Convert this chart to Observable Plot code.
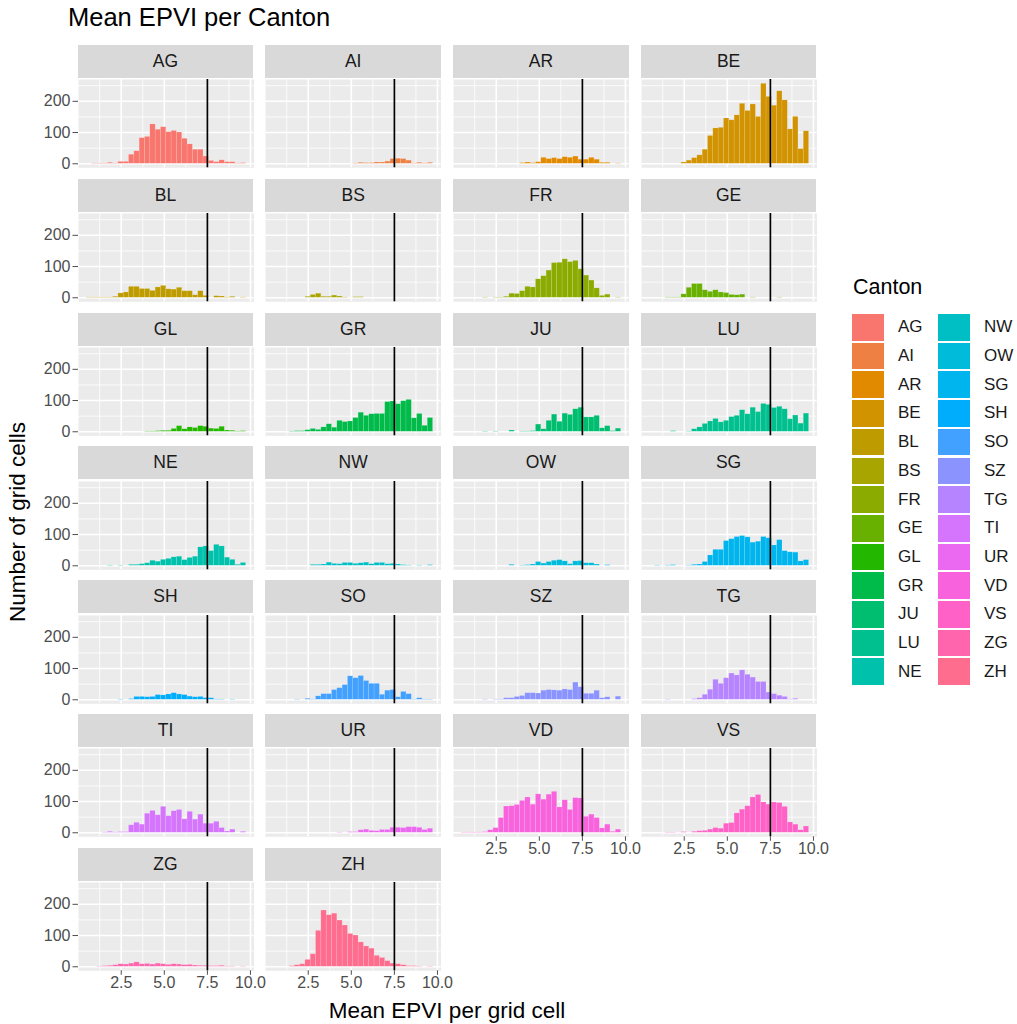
<!DOCTYPE html>
<html>
<head>
<meta charset="utf-8">
<script src="https://cdn.jsdelivr.net/npm/d3@7"></script>
<script src="https://cdn.jsdelivr.net/npm/@observablehq/plot@0.6"></script>
<style>
  html, body { margin: 0; padding: 0; background: white; }
  #wrap { position: relative; width: 1017px; height: 1024px; background: white; font-family: "Liberation Sans", Arial, sans-serif; overflow: hidden; }
  .abs { position: absolute; }
  .strip { position: absolute; background: #D9D9D9; color: #1A1A1A; font-size: 17.5px; display: flex; align-items: center; justify-content: center; }
  .plt { position: absolute; }
</style>
</head>
<body>
<div id="wrap"></div>
<script>
// ---- data ----
const cantons = ["AG","AI","AR","BE","BL","BS","FR","GE","GL","GR","JU","LU","NE","NW","OW","SG","SH","SO","SZ","TG","TI","UR","VD","VS","ZG","ZH"];
const binLow = 0.482;      // left edge of first histogram bin
const binWidth = 0.3088;   // width of each of the 30 bins
const xTicks = [2.5, 5.0, 7.5, 10.0];
const yTicks = [0, 100, 200];
const threshold = 7.5;

const AG = [0,1,1,1,3,1,6,6,29,40,82,86,126,109,117,101,105,100,80,62,45,45,23,9,5,11,5,5,1,2];
const AI = [0,0,0,0,0,0,0,0,0,0,0,0,0,0,0,1,3,2,2,4,4,7,15,16,15,10,1,3,1,3];
const AR = [0,0,0,0,0,0,0,0,0,0,0,2,4,2,5,19,15,18,15,21,19,23,13,13,19,13,3,3,0,1];
const BE = [0,0,0,0,0,0,4,10,18,27,45,89,113,115,145,139,155,192,169,190,150,256,214,186,232,203,110,150,47,104];
const BL = [1,1,1,1,1,3,14,17,35,35,28,28,22,33,38,27,26,32,21,21,8,21,6,0,5,4,1,3,0,1];
const BS = [0,0,0,0,0,0,3,9,13,3,3,7,4,1,0,2,2,0,0,0,0,0,0,0,0,0,0,0,0,0];
const FR = [0,0,0,0,1,0,1,1,3,13,12,21,35,33,59,69,87,111,112,123,114,118,91,71,55,30,6,10,0,1];
const GE = [0,0,0,1,1,1,11,32,44,44,24,19,24,17,15,9,8,10,0,1,0,0,0,0,1,0,0,0,0,0];
const GL = [0,0,0,0,0,0,0,0,0,0,0,1,1,2,3,3,9,18,8,14,12,18,16,10,9,16,4,3,1,2];
const GR = [0,0,0,1,2,2,5,9,6,14,24,13,35,31,33,44,61,51,56,57,57,95,97,88,98,102,43,57,19,44];
const JU = [0,0,0,0,1,0,1,0,0,4,0,1,1,2,23,8,35,55,32,58,54,72,77,46,46,51,11,18,2,10];
const LU = [0,0,0,0,2,0,0,1,8,14,25,33,41,30,35,47,51,69,56,77,63,89,86,76,80,72,40,52,26,58];
const NE = [0,0,0,0,1,0,1,0,3,3,5,8,16,13,19,22,27,29,18,25,29,59,62,47,67,62,26,19,3,9];
const NW = [0,0,0,0,0,0,0,3,3,4,10,6,5,9,9,6,8,10,5,9,9,5,6,4,2,1,0,1,0,2];
const OW = [0,0,0,0,0,0,0,0,0,3,0,1,2,4,12,7,12,16,18,14,5,14,15,8,8,4,0,2,0,0];
const SG = [0,1,0,1,2,0,0,1,3,4,12,33,51,51,79,85,92,95,91,74,77,92,88,65,82,47,43,42,14,18];
const SH = [0,0,0,0,0,0,1,0,2,9,9,8,9,15,14,17,21,17,15,10,8,9,5,5,1,1,0,1,0,0];
const SO = [0,0,0,0,1,0,3,1,11,18,18,31,37,47,75,69,76,60,51,51,16,29,31,8,25,18,1,5,1,1];
const SZ = [0,0,0,0,1,0,1,1,5,5,9,12,21,21,20,29,31,30,29,33,31,55,40,19,19,29,5,8,0,10];
const TG = [0,0,0,1,0,0,0,0,2,5,16,32,64,51,69,84,78,94,80,71,57,57,23,18,13,9,1,3,0,0];
const TI = [0,0,0,1,3,1,2,2,24,32,26,61,70,56,83,53,69,73,43,67,42,58,29,29,35,15,4,10,0,3];
const UR = [0,0,0,0,0,0,0,0,0,0,0,0,1,0,2,2,8,10,6,5,9,9,16,16,15,18,18,16,9,13];
const VD = [1,1,1,1,2,8,15,47,84,85,89,102,113,90,123,106,122,131,81,104,73,111,110,51,58,47,14,26,3,10];
const VS = [0,0,0,1,1,0,2,0,3,5,6,10,15,13,29,31,62,74,85,113,121,97,90,97,95,83,33,26,8,20];
const ZG = [0,0,1,2,3,5,8,7,10,14,8,9,7,10,8,6,8,7,5,6,4,3,3,2,2,3,1,1,0,1];
const ZH = [0,0,0,2,5,8,22,40,115,180,165,170,148,132,105,100,78,65,58,35,28,18,10,8,5,2,2,1,0,1];

const countsBy = {AG,AI,AR,BE,BL,BS,FR,GE,GL,GR,JU,LU,NE,NW,OW,SG,SH,SO,SZ,TG,TI,UR,VD,VS,ZG,ZH};

// ---- ggplot2 default hue palette (polar Luv, c=100, l=65) ----
function hclHex(h, c, l) {
  const Xn = 95.047, Yn = 100, Zn = 108.883;
  const hr = h * Math.PI / 180;
  const U = c * Math.cos(hr), V = c * Math.sin(hr), L = l;
  const Y = Yn * (L > 7.999592 ? Math.pow((L + 16) / 116, 3) : L / 903.3);
  const den = Xn + 15 * Yn + 3 * Zn;
  const un = 4 * Xn / den, vn = 9 * Yn / den;
  const u = U / (13 * L) + un, v = V / (13 * L) + vn;
  const X = 9 * Y * u / (4 * v);
  const Z = -X / 3 - 5 * Y + 3 * Y / v;
  const x = X / 100, y = Y / 100, z = Z / 100;
  const lin = [
    3.240479 * x - 1.537150 * y - 0.498535 * z,
    -0.969256 * x + 1.875992 * y + 0.041556 * z,
    0.055648 * x - 0.204043 * y + 1.057311 * z
  ];
  return "#" + lin.map(t => {
    let g = t <= 0.0031308 ? 12.92 * t : 1.055 * Math.pow(t, 1 / 2.4) - 0.055;
    g = Math.max(0, Math.min(1, g));
    return Math.round(g * 255).toString(16).padStart(2, "0");
  }).join("");
}
const n = cantons.length;
const palette = cantons.map((_, i) => hclHex(15 + i * 360 / n, 100, 65));
const colorOf = Object.fromEntries(cantons.map((c, i) => [c, palette[i]]));

// ---- layout ----
const wrap = document.getElementById("wrap");
const COL_LEFT = 77.7, COL_STEP = 187.7, PANEL_W = 175.6;
const ROW_TOP = 45, ROW_STEP = 133.8, STRIP_H = 33, PANEL_OFF = 34.3, PANEL_H = 88.3;
const ML = 50, MB = 34;
const xDomain = [0.019, 10.21];
const yDomain = [-12.85, 269.85];
const FONT = '"Liberation Sans", Arial, sans-serif';

function addDiv(cls, css, text) {
  const d = document.createElement("div");
  d.className = cls;
  Object.assign(d.style, css);
  if (text != null) d.textContent = text;
  wrap.appendChild(d);
  return d;
}

cantons.forEach((name, idx) => {
  const col = idx % 4, row = Math.floor(idx / 4);
  const left = COL_LEFT + col * COL_STEP;
  const stripTop = ROW_TOP + row * ROW_STEP;
  const panelTop = stripTop + PANEL_OFF;
  const showY = col === 0;
  const showX = (row === 6) || (row === 5 && col >= 2);

  addDiv("strip", {left: left + "px", top: stripTop + "px", width: PANEL_W + "px", height: STRIP_H + "px"}, name);

  const data = countsBy[name].map((cnt, i) => ({x1: binLow + i * binWidth, x2: binLow + (i + 1) * binWidth, count: cnt}));
  const marks = [
    Plot.frame({fill: "#EBEBEB", stroke: null}),
    Plot.gridX({ticks: [1.25, 3.75, 6.25, 8.75], stroke: "white", strokeOpacity: 1, strokeWidth: 0.8}),
    Plot.gridY({ticks: [50, 150, 250], stroke: "white", strokeOpacity: 1, strokeWidth: 0.8}),
    Plot.gridX({ticks: xTicks, stroke: "white", strokeOpacity: 1, strokeWidth: 1.6}),
    Plot.gridY({ticks: yTicks, stroke: "white", strokeOpacity: 1, strokeWidth: 1.6}),
    Plot.rectY(data.filter(d => d.count > 0), {x1: "x1", x2: "x2", y1: 0, y2: "count", fill: colorOf[name], stroke: "white", strokeOpacity: 0.25, strokeWidth: 0.5}),
    Plot.ruleX([threshold], {stroke: "black", strokeWidth: 1.7})
  ];
  if (showY) marks.push(Plot.axisY({ticks: yTicks, tickSize: 5.5, tickPadding: 2.5, fontSize: 16, color: "#4D4D4D", label: null}));
  if (showX) marks.push(Plot.axisX({ticks: xTicks, tickFormat: d3.format(".1f"), tickSize: 4.5, tickPadding: 1, fontSize: 16, color: "#4D4D4D", label: null}));

  const p = Plot.plot({
    width: ML + PANEL_W,
    height: PANEL_H + MB,
    marginLeft: ML, marginRight: 0, marginTop: 0, marginBottom: MB,
    x: {domain: xDomain},
    y: {domain: yDomain},
    axis: null,
    style: {background: "transparent", overflow: "visible", fontFamily: FONT, maxWidth: "none"},
    marks
  });
  p.classList.add("plt");
  p.style.position = "absolute";
  p.style.left = (left - ML) + "px";
  p.style.top = panelTop + "px";
  wrap.appendChild(p);
});

// titles
addDiv("abs", {left: "68px", top: "3px", fontSize: "25.5px", color: "#000", whiteSpace: "nowrap"}, "Mean EPVI per Canton");
addDiv("abs", {left: "247px", width: "400px", top: "998px", fontSize: "22.5px", color: "#000", textAlign: "center", whiteSpace: "nowrap"}, "Mean EPVI per grid cell");
addDiv("abs", {left: "18px", top: "522px", fontSize: "22.5px", color: "#000", whiteSpace: "nowrap", transform: "translate(-50%,-50%) rotate(-90deg)"}, "Number of grid cells");

// legend
addDiv("abs", {left: "853px", top: "275px", fontSize: "21.5px", color: "#000", whiteSpace: "nowrap"}, "Canton");
const KEY_W = 34, KEY_H = 28.7, LEG_TOP = 313;
cantons.forEach((name, i) => {
  const c = Math.floor(i / 13), r = i % 13;
  const kx = 851 + c * 86, ky = LEG_TOP + r * KEY_H;
  addDiv("abs", {left: kx + "px", top: ky + "px", width: KEY_W + "px", height: KEY_H + "px", background: colorOf[name], boxSizing: "border-box", border: "1px solid white"});
  addDiv("abs", {left: (kx + 47) + "px", top: (ky + KEY_H / 2) + "px", fontSize: "17px", color: "#1A1A1A", transform: "translateY(-50%)", whiteSpace: "nowrap"}, name);
});
</script>
</body>
</html>
